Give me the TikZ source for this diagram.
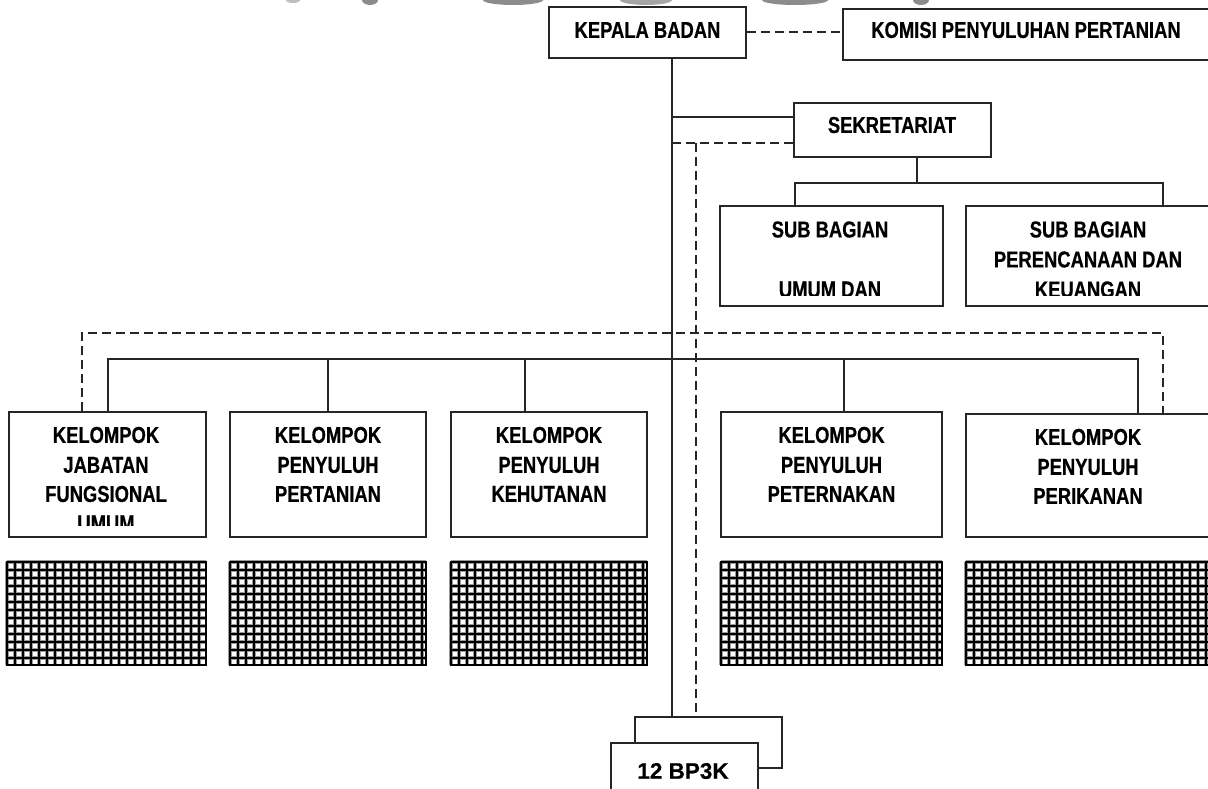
\documentclass[tikz,border=0pt]{standalone}
\usepackage{fontspec}
\setmainfont{Liberation Sans}
\newfontfamily\orgfont{Liberation Sans}[FakeStretch=0.8, FakeBold=0.6]
\newfontfamily\orgwide{Liberation Sans}[FakeBold=0.5]

% hatched mesh block between x=#1 and x=#2
\newcommand\meshblock[2]{%
  \pgfmathtruncatemacro\mbnext{#1+8}%
  \foreach \gx in {#1,\mbnext,...,#2}{\draw[meshhalo] (\gx,562) -- (\gx,665);}
  \foreach \gy in {562,570,...,665}{\draw[meshhalo] (#1,\gy) -- (#2,\gy);}
  \foreach \gx in {#1,\mbnext,...,#2}{\draw[meshline] (\gx,562) -- (\gx,665);}
  \foreach \gy in {562,570,...,665}{\draw[meshline] (#1,\gy) -- (#2,\gy);}
  \draw[meshline] (#1,562) rectangle (#2,665);
}

\tikzset{
  box/.style={rectangle, draw=black!85, line width=2pt, fill=white, inner sep=0pt},
  lbl/.style={font=\orgfont\bfseries\fontsize{23}{26}\selectfont, inner sep=0pt, text=black},
  lblwide/.style={font=\orgwide\bfseries\fontsize{22.5}{26}\selectfont, inner sep=0pt, text=black},
  link/.style={draw=black!85, line width=2pt},
  dlink/.style={link, dash pattern=on 9pt off 5pt},
  meshhalo/.style={draw=black!40, line width=4.2pt},
  meshline/.style={draw=black, line width=2pt},
  smudge/.style={fill=black!45, draw=none}
}

\begin{document}
\begin{tikzpicture}[x=1pt, y=-1pt]
\useasboundingbox (0,0) rectangle (1208,789);
\clip (0,0) rectangle (1208,789);
\fill[white] (0,0) rectangle (1208,789);

% faint marks along the top edge
\fill[smudge, fill=black!25] (293,0) ellipse (7 and 3);
\fill[smudge] (370,0) ellipse (8 and 5);
\fill[smudge] (513,0) ellipse (30 and 5);
\fill[smudge, fill=black!35] (646,0) ellipse (26 and 5);
\fill[smudge] (795,0) ellipse (33 and 5);
\fill[smudge] (921,0) ellipse (8 and 5);

% reference columns for the main lines
\coordinate (trunk) at (672,0);
\coordinate (dtrunk) at (696,0);

% boxes
\node[box, minimum width=197, minimum height=51] (kepala) at (647.5,32.5) {};
\node[box, minimum width=369, minimum height=51] (komisi) at (1027.5,34.5) {};
\node[box, minimum width=197, minimum height=54] (sek) at (892.5,130) {};
\node[box, minimum width=223, minimum height=100] (subUmum) at (831.5,256) {};
\node[box, minimum width=246, minimum height=100] (subRenc) at (1089,256) {};
\node[box, minimum width=197, minimum height=125] (k1) at (107.5,474.5) {};
\node[box, minimum width=196, minimum height=125] (k2) at (328,474.5) {};
\node[box, minimum width=196, minimum height=125] (k3) at (549,474.5) {};
\node[box, minimum width=221, minimum height=125] (k4) at (831.5,474.5) {};
\node[box, minimum width=246, minimum height=123] (k5) at (1089,475.5) {};
\node[box, minimum width=147, minimum height=51] (bpBack) at (708.5,742.5) {};

% connector points
\coordinate (sekA) at (0,117);
\coordinate (sekB) at (0,143);
\coordinate (sekDrop) at (917,183);
\coordinate (subL) at (795,183);
\coordinate (subR) at (1163,183);
\coordinate (busR) at (1138,359);
\coordinate (bus3) at (525,359);
\coordinate (bus4) at (843.5,359);
\coordinate (dL) at (82,333);
\coordinate (dR) at (1163,333);

% solid lines
\draw[link] (trunk |- kepala.south) -- (trunk |- bpBack.north);
\draw[link] (trunk |- sekA) -- (sek.west |- sekA);
\draw[link] (sekDrop |- sek.south) -- (sekDrop);
\draw[link] (subL |- subUmum.north) -- (subL) -- (subR) -- (subR |- subRenc.north);
\draw[link] (k1.north) |- (busR) -- (busR |- k5.north);
\draw[link] (k2.north) -- (k2.north |- busR);
\draw[link] (bus3) -- (bus3 |- k3.north);
\draw[link] (bus4) -- (bus4 |- k4.north);

% dashed lines
\draw[dlink] (kepala.east) -- (kepala.east -| komisi.west);
\draw[dlink] (trunk |- sekB) -- (sek.west |- sekB);
\draw[dlink] (dtrunk |- sekB) -- (dtrunk |- bpBack.north);
\draw[dlink] (dL |- k1.north) -- (dL) -- (dR) -- (dR |- k5.north);

% front unit box
\node[box, minimum width=147, minimum height=57] (bpFront) at (684.5,771.5) {};

% labels
\node[lbl] (tKepala) at (647.5,30) {KEPALA BADAN};
\node[lbl] (tKomisi) at (1026,30) {KOMISI PENYULUHAN PERTANIAN};
\node[lbl] (tSek) at (892,125) {SEKRETARIAT};

\node[lbl] (tUm1) at (830,229.5) {SUB BAGIAN};
\begin{scope}
  \clip (720,270) rectangle (943,295);
  \node[lbl] (tUm3) at (830,289.5) {UMUM DAN};
\end{scope}

\node[lbl] (tRe1) at (1088,229.5) {SUB BAGIAN};
\node[lbl] (tRe2) at (1088,259.5) {PERENCANAAN DAN};
\begin{scope}
  \clip (966,270) rectangle (1208,295);
  \node[lbl] (tRe3) at (1088,289.5) {KEUANGAN};
\end{scope}

\node[lbl] (tK1a) at (106,435) {KELOMPOK};
\node[lbl] (tK1b) at (106,465) {JABATAN};
\node[lbl] (tK1c) at (106,494) {FUNGSIONAL};
\begin{scope}
  \clip (9,505) rectangle (206,525);
  \node[lbl] (tK1d) at (106,523.5) {UMUM};
\end{scope}

\node[lbl] (tK2a) at (328,435) {KELOMPOK};
\node[lbl] (tK2b) at (328,465) {PENYULUH};
\node[lbl] (tK2c) at (328,494) {PERTANIAN};

\node[lbl] (tK3a) at (549,435) {KELOMPOK};
\node[lbl] (tK3b) at (549,465) {PENYULUH};
\node[lbl] (tK3c) at (549,494) {KEHUTANAN};

\node[lbl] (tK4a) at (831.5,435) {KELOMPOK};
\node[lbl] (tK4b) at (831.5,465) {PENYULUH};
\node[lbl] (tK4c) at (831.5,494) {PETERNAKAN};

\node[lbl] (tK5a) at (1088,437) {KELOMPOK};
\node[lbl] (tK5b) at (1088,467) {PENYULUH};
\node[lbl] (tK5c) at (1088,496) {PERIKANAN};

\node[lblwide] (tBp) at (683,771) {12 BP3K};

% mesh blocks under the groups
\meshblock{7}{206}
\meshblock{230}{426}
\meshblock{451}{647}
\meshblock{721}{942}
\meshblock{966}{1214}
\end{tikzpicture}
\end{document}
